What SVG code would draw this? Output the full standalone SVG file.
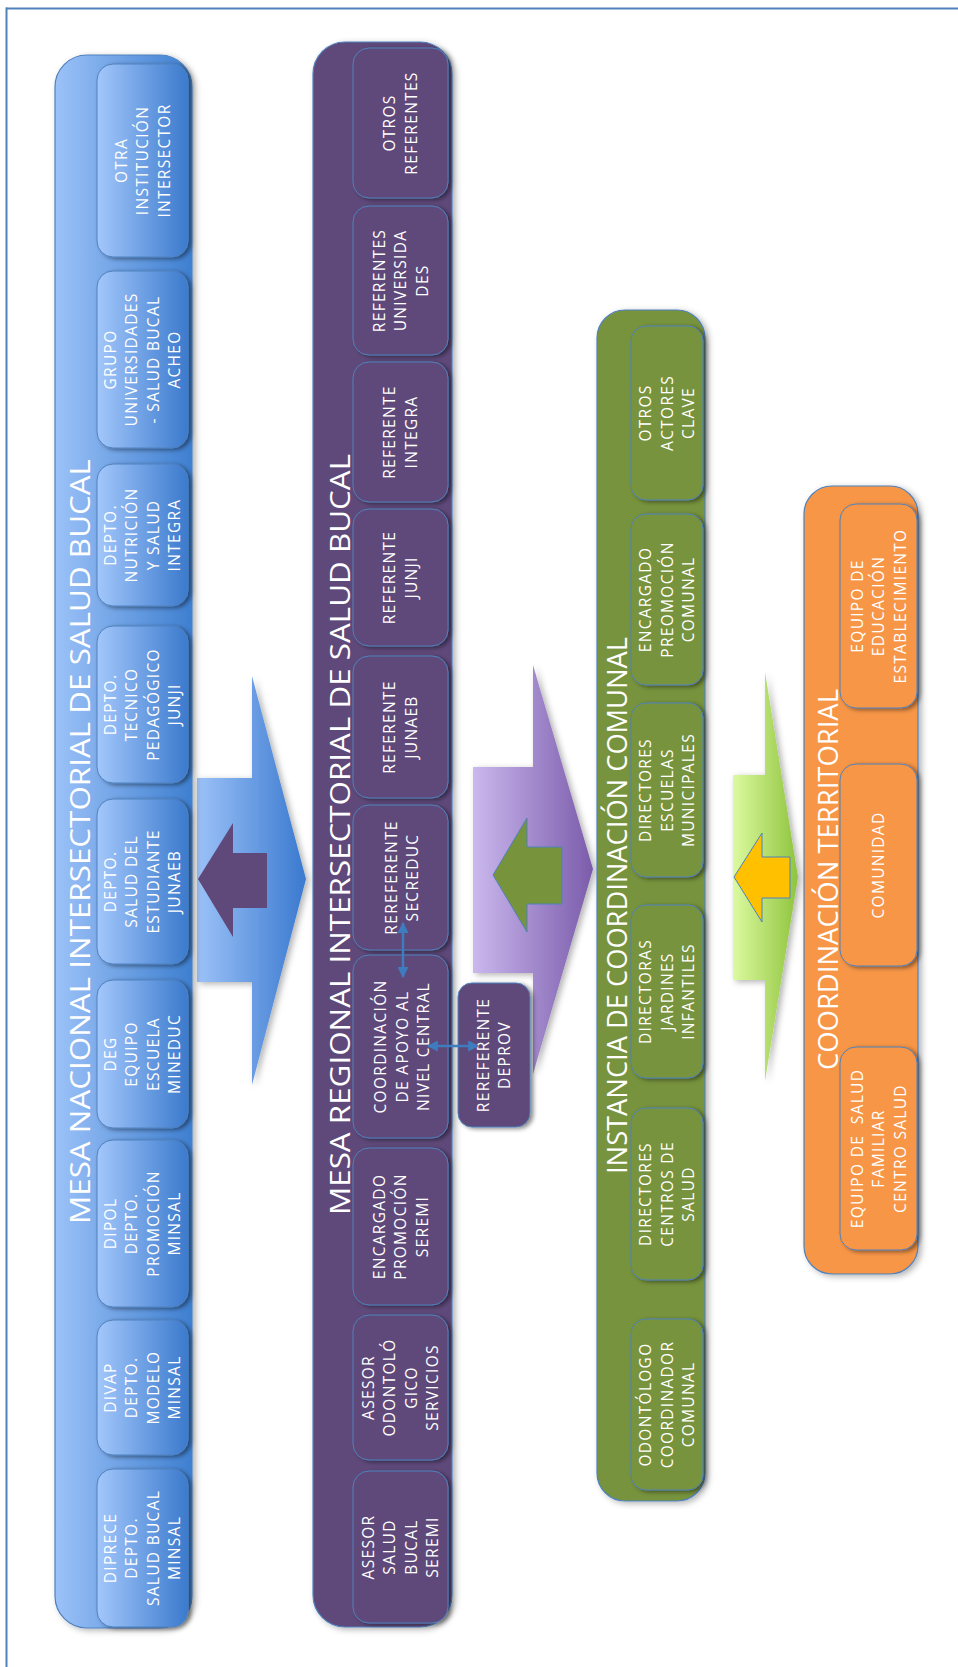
<svg xmlns="http://www.w3.org/2000/svg" width="958" height="1667" viewBox="0 0 958 1667">
<defs>
<style>
.t{font-family:"Open Sans","Liberation Sans",sans-serif;font-size:15.5px;letter-spacing:1.3px;fill:#ffffff;text-anchor:middle}
.ttl{font-family:"Open Sans","Liberation Sans",sans-serif;font-size:28px;fill:#ffffff;text-anchor:middle}
.ct{stroke:#4f81bd;stroke-width:1.2}
.bn{fill:url(#gBlueNode);stroke:#4f81bd;stroke-width:1;filter:url(#sh)}
.pn{fill:#5f497a;stroke:#4f81bd;stroke-width:1;filter:url(#sh)}
.gn{fill:#77933c;stroke:#4f81bd;stroke-width:1;filter:url(#sh)}
.on{fill:#f79646;stroke:#4f81bd;stroke-width:1;filter:url(#sh)}
.conn{stroke:#3f7cbf;stroke-width:2.5;fill:none;marker-start:url(#ah);marker-end:url(#ah)}
</style>
<linearGradient id="gBlueBox" x1="0" y1="0" x2="1" y2="0">
<stop offset="0" stop-color="#9cc2f8"/><stop offset="1" stop-color="#3e7fd0"/>
</linearGradient>
<linearGradient id="gBlueNode" x1="0" y1="0" x2="1" y2="0">
<stop offset="0" stop-color="#a3c7fb"/><stop offset="1" stop-color="#3b7acd"/>
</linearGradient>
<linearGradient id="gBlueArrow" x1="0" y1="0" x2="1" y2="0">
<stop offset="0" stop-color="#9cc2f8"/><stop offset="1" stop-color="#3a79cf"/>
</linearGradient>
<linearGradient id="gPurpleArrow" x1="0" y1="0" x2="1" y2="0">
<stop offset="0" stop-color="#cbb8ee"/><stop offset="1" stop-color="#7b5cab"/>
</linearGradient>
<linearGradient id="gGreenArrow" x1="0" y1="0" x2="1" y2="0">
<stop offset="0" stop-color="#dcfa9f"/><stop offset="1" stop-color="#8fc43e"/>
</linearGradient>
<filter id="sh" x="-20%" y="-20%" width="150%" height="140%">
<feDropShadow dx="3" dy="1.5" stdDeviation="2" flood-color="#000" flood-opacity="0.45"/>
</filter>
<filter id="sh2" x="-20%" y="-20%" width="150%" height="140%">
<feDropShadow dx="3" dy="2" stdDeviation="3" flood-color="#000" flood-opacity="0.3"/>
</filter>
<marker id="ah" viewBox="0 0 10 10" refX="9" refY="5" markerWidth="11" markerHeight="11" markerUnits="userSpaceOnUse" orient="auto-start-reverse">
<path d="M0,0 L10,5 L0,10 Z" fill="#3f7cbf"/>
</marker>
</defs>

<rect x="0" y="0" width="958" height="1667" fill="#ffffff"/>
<g id="frame" stroke="#4f81bd" stroke-width="2" fill="none">
<line x1="6" y1="8.5" x2="958" y2="8.5"/>
<line x1="6.5" y1="7.5" x2="6.5" y2="1667"/>
</g>

<!-- Flow arrows -->
<g id="flow-arrows">
<polygon points="197,778 252,778 252,676 306,879 252,1085 252,982 197,982" fill="url(#gBlueArrow)" filter="url(#sh2)"/>
<polygon points="198,879 233,823 233,853 267,853 267,908 233,908 233,937" fill="#5f497a"/>
<polygon points="473,767 533,767 533,665 593,869 533,1074 533,973 473,973" fill="url(#gPurpleArrow)" filter="url(#sh2)"/>
<polygon points="493,875 527,818 527,847 562,847 562,904 527,904 527,932" fill="#77933c" stroke="#4f81bd" stroke-width="1"/>
<polygon points="733,775 765,775 765,672 798,877 765,1081 765,980 733,980" fill="url(#gGreenArrow)" filter="url(#sh2)"/>
<polygon points="734,877 762,833 762,857 790,857 790,898 762,898 762,922" fill="#ffc000" stroke="#4f81bd" stroke-width="1"/>
</g>

<!-- MESA NACIONAL -->
<g id="mesa-nacional">
<rect class="ct" x="55" y="55" width="137" height="1573" rx="32" fill="url(#gBlueBox)" filter="url(#sh2)"/>
<text class="ttl" fill="#e6efff" transform="translate(90,841.5) rotate(-90)" textLength="765" lengthAdjust="spacingAndGlyphs">MESA NACIONAL INTERSECTORIAL DE SALUD BUCAL</text>
</g>
<g id="n-otra-institucion"><rect class="bn" x="97" y="64" width="91" height="193" rx="16"/>
<text class="t" transform="translate(142.5,160.5) rotate(-90)"><tspan x="0" y="-16">OTRA</tspan><tspan x="0" y="5.5">INSTITUCIÓN</tspan><tspan x="0" y="27">INTERSECTOR</tspan></text></g>
<g id="n-grupo-universidades"><rect class="bn" x="97" y="271" width="91" height="177" rx="16"/>
<text class="t" transform="translate(142.5,359.5) rotate(-90)"><tspan x="0" y="-26.75">GRUPO</tspan><tspan x="0" y="-5.25">UNIVERSIDADES</tspan><tspan x="0" y="16.25">- SALUD BUCAL</tspan><tspan x="0" y="37.75">ACHEO</tspan></text></g>
<g id="n-depto-nutricion"><rect class="bn" x="97" y="464" width="91" height="142" rx="16"/>
<text class="t" transform="translate(142.5,535) rotate(-90)"><tspan x="0" y="-26.75">DEPTO.</tspan><tspan x="0" y="-5.25">NUTRICIÓN</tspan><tspan x="0" y="16.25">Y SALUD</tspan><tspan x="0" y="37.75">INTEGRA</tspan></text></g>
<g id="n-depto-tecnico"><rect class="bn" x="97" y="626" width="91" height="157" rx="16"/>
<text class="t" transform="translate(142.5,704.5) rotate(-90)"><tspan x="0" y="-26.75">DEPTO.</tspan><tspan x="0" y="-5.25">TECNICO</tspan><tspan x="0" y="16.25">PEDAGÓGICO</tspan><tspan x="0" y="37.75">JUNJI</tspan></text></g>
<g id="n-depto-salud-estudiante"><rect class="bn" x="97" y="799" width="91" height="165" rx="16"/>
<text class="t" transform="translate(142.5,881.5) rotate(-90)"><tspan x="0" y="-26.75">DEPTO.</tspan><tspan x="0" y="-5.25">SALUD DEL</tspan><tspan x="0" y="16.25">ESTUDIANTE</tspan><tspan x="0" y="37.75">JUNAEB</tspan></text></g>
<g id="n-deg"><rect class="bn" x="97" y="980" width="91" height="148" rx="16"/>
<text class="t" transform="translate(142.5,1054) rotate(-90)"><tspan x="0" y="-26.75">DEG</tspan><tspan x="0" y="-5.25">EQUIPO</tspan><tspan x="0" y="16.25">ESCUELA</tspan><tspan x="0" y="37.75">MINEDUC</tspan></text></g>
<g id="n-dipol"><rect class="bn" x="97" y="1140" width="91" height="167" rx="16"/>
<text class="t" transform="translate(142.5,1223.5) rotate(-90)"><tspan x="0" y="-26.75">DIPOL</tspan><tspan x="0" y="-5.25">DEPTO.</tspan><tspan x="0" y="16.25">PROMOCIÓN</tspan><tspan x="0" y="37.75">MINSAL</tspan></text></g>
<g id="n-divap"><rect class="bn" x="97" y="1320" width="91" height="135" rx="16"/>
<text class="t" transform="translate(142.5,1387.5) rotate(-90)"><tspan x="0" y="-26.75">DIVAP</tspan><tspan x="0" y="-5.25">DEPTO.</tspan><tspan x="0" y="16.25">MODELO</tspan><tspan x="0" y="37.75">MINSAL</tspan></text></g>
<g id="n-diprece"><rect class="bn" x="97" y="1469" width="91" height="158" rx="16"/>
<text class="t" transform="translate(142.5,1548) rotate(-90)"><tspan x="0" y="-26.75">DIPRECE</tspan><tspan x="0" y="-5.25">DEPTO.</tspan><tspan x="0" y="16.25">SALUD BUCAL</tspan><tspan x="0" y="37.75">MINSAL</tspan></text></g>

<!-- MESA REGIONAL -->
<g id="mesa-regional">
<rect class="ct" x="313" y="42" width="139" height="1585" rx="32" fill="#5f497a" filter="url(#sh2)"/>
<text class="ttl" transform="translate(350,834.5) rotate(-90)" textLength="761" lengthAdjust="spacingAndGlyphs">MESA REGIONAL INTERSECTORIAL DE SALUD BUCAL</text>
</g>
<g id="n-otros-referentes"><rect class="pn" x="353" y="48" width="95" height="150" rx="16"/>
<text class="t" transform="translate(400.5,123) rotate(-90)"><tspan x="0" y="-5.25">OTROS</tspan><tspan x="0" y="16.25">REFERENTES</tspan></text></g>
<g id="n-referentes-universidades"><rect class="pn" x="353" y="206" width="95" height="149" rx="16"/>
<text class="t" transform="translate(400.5,280.5) rotate(-90)"><tspan x="0" y="-16">REFERENTES</tspan><tspan x="0" y="5.5">UNIVERSIDA</tspan><tspan x="0" y="27">DES</tspan></text></g>
<g id="n-referente-integra"><rect class="pn" x="353" y="362" width="95" height="140" rx="16"/>
<text class="t" transform="translate(400.5,432) rotate(-90)"><tspan x="0" y="-5.25">REFERENTE</tspan><tspan x="0" y="16.25">INTEGRA</tspan></text></g>
<g id="n-referente-junji"><rect class="pn" x="353" y="509" width="95" height="137" rx="16"/>
<text class="t" transform="translate(400.5,577.5) rotate(-90)"><tspan x="0" y="-5.25">REFERENTE</tspan><tspan x="0" y="16.25">JUNJI</tspan></text></g>
<g id="n-referente-junaeb"><rect class="pn" x="353" y="656" width="95" height="142" rx="16"/>
<text class="t" transform="translate(400.5,727) rotate(-90)"><tspan x="0" y="-5.25">REFERENTE</tspan><tspan x="0" y="16.25">JUNAEB</tspan></text></g>
<g id="n-secreduc"><rect class="pn" x="353" y="805" width="95" height="145" rx="16"/>
<text class="t" transform="translate(402,877.5) rotate(-90)"><tspan x="0" y="-5.25">REREFERENTE</tspan><tspan x="0" y="16.25">SECREDUC</tspan></text></g>
<g id="n-coordinacion-apoyo"><rect class="pn" x="353" y="955" width="95" height="183" rx="16"/>
<text class="t" transform="translate(402,1046.5) rotate(-90)"><tspan x="0" y="-16">COORDINACIÓN</tspan><tspan x="0" y="5.5">DE APOYO AL</tspan><tspan x="0" y="27">NIVEL CENTRAL</tspan></text></g>
<g id="n-encargado-promocion-seremi"><rect class="pn" x="353" y="1148" width="95" height="157" rx="16"/>
<text class="t" transform="translate(400.5,1226.5) rotate(-90)"><tspan x="0" y="-16">ENCARGADO</tspan><tspan x="0" y="5.5">PROMOCIÓN</tspan><tspan x="0" y="27">SEREMI</tspan></text></g>
<g id="n-asesor-odontologico"><rect class="pn" x="353" y="1315" width="95" height="145" rx="16"/>
<text class="t" transform="translate(400.5,1387.5) rotate(-90)"><tspan x="0" y="-26.75">ASESOR</tspan><tspan x="0" y="-5.25">ODONTOLÓ</tspan><tspan x="0" y="16.25">GICO</tspan><tspan x="0" y="37.75">SERVICIOS</tspan></text></g>
<g id="n-asesor-salud-bucal"><rect class="pn" x="353" y="1471" width="95" height="152" rx="16"/>
<text class="t" transform="translate(400.5,1547) rotate(-90)"><tspan x="0" y="-26.75">ASESOR</tspan><tspan x="0" y="-5.25">SALUD</tspan><tspan x="0" y="16.25">BUCAL</tspan><tspan x="0" y="37.75">SEREMI</tspan></text></g>
<g id="n-deprov"><rect class="pn" x="458" y="983" width="72" height="144" rx="14"/>
<text class="t" transform="translate(494,1055) rotate(-90)"><tspan x="0" y="-5.25">REREFERENTE</tspan><tspan x="0" y="16.25">DEPROV</tspan></text></g>

<!-- INSTANCIA COMUNAL -->
<g id="instancia-comunal">
<rect class="ct" x="597" y="310" width="108" height="1191" rx="28" fill="#77933c" filter="url(#sh2)"/>
<text class="ttl" style="font-size:27px" transform="translate(627,905.5) rotate(-90)" textLength="537" lengthAdjust="spacingAndGlyphs">INSTANCIA DE COORDINACIÓN COMUNAL</text>
</g>
<g id="n-otros-actores"><rect class="gn" x="631" y="326" width="72" height="174" rx="15"/>
<text class="t" transform="translate(667,413) rotate(-90)"><tspan x="0" y="-16">OTROS</tspan><tspan x="0" y="5.5">ACTORES</tspan><tspan x="0" y="27">CLAVE</tspan></text></g>
<g id="n-encargado-comunal"><rect class="gn" x="631" y="514" width="72" height="171" rx="15"/>
<text class="t" transform="translate(667,599.5) rotate(-90)"><tspan x="0" y="-16">ENCARGADO</tspan><tspan x="0" y="5.5">PREOMOCIÓN</tspan><tspan x="0" y="27">COMUNAL</tspan></text></g>
<g id="n-directores-escuelas"><rect class="gn" x="631" y="703" width="72" height="174" rx="15"/>
<text class="t" transform="translate(667,790) rotate(-90)"><tspan x="0" y="-16">DIRECTORES</tspan><tspan x="0" y="5.5">ESCUELAS</tspan><tspan x="0" y="27">MUNICIPALES</tspan></text></g>
<g id="n-directoras-jardines"><rect class="gn" x="631" y="905" width="72" height="173" rx="15"/>
<text class="t" transform="translate(667,991.5) rotate(-90)"><tspan x="0" y="-16">DIRECTORAS</tspan><tspan x="0" y="5.5">JARDINES</tspan><tspan x="0" y="27">INFANTILES</tspan></text></g>
<g id="n-directores-centros"><rect class="gn" x="631" y="1108" width="72" height="172" rx="15"/>
<text class="t" transform="translate(667,1194) rotate(-90)"><tspan x="0" y="-16">DIRECTORES</tspan><tspan x="0" y="5.5">CENTROS DE</tspan><tspan x="0" y="27">SALUD</tspan></text></g>
<g id="n-odontologo"><rect class="gn" x="631" y="1319" width="72" height="171" rx="15"/>
<text class="t" transform="translate(667,1404.5) rotate(-90)"><tspan x="0" y="-16">ODONTÓLOGO</tspan><tspan x="0" y="5.5">COORDINADOR</tspan><tspan x="0" y="27">COMUNAL</tspan></text></g>

<!-- COORDINACION TERRITORIAL -->
<g id="coordinacion-territorial">
<rect class="ct" x="804" y="486" width="114" height="788" rx="28" fill="#f79646" filter="url(#sh2)"/>
<text class="ttl" style="font-size:27px" transform="translate(838,879.5) rotate(-90)" textLength="381" lengthAdjust="spacingAndGlyphs">COORDINACIÓN TERRITORIAL</text>
</g>
<g id="n-equipo-educacion"><rect class="on" x="840" y="504" width="77" height="204" rx="16"/>
<text class="t" transform="translate(878.5,606) rotate(-90)"><tspan x="0" y="-16">EQUIPO DE</tspan><tspan x="0" y="5.5">EDUCACIÓN</tspan><tspan x="0" y="27">ESTABLECIMIENTO</tspan></text></g>
<g id="n-comunidad"><rect class="on" x="840" y="764" width="77" height="202" rx="16"/>
<text class="t" transform="translate(878.5,865) rotate(-90)"><tspan x="0" y="5.5">COMUNIDAD</tspan></text></g>
<g id="n-equipo-salud-familiar"><rect class="on" x="840" y="1047" width="77" height="203" rx="16"/>
<text class="t" transform="translate(878.5,1148.5) rotate(-90)"><tspan x="0" y="-16" xml:space="preserve">EQUIPO DE  SALUD</tspan><tspan x="0" y="5.5">FAMILIAR</tspan><tspan x="0" y="27">CENTRO SALUD</tspan></text></g>

<!-- Connectors -->
<g id="connectors">
<line class="conn" x1="403" y1="923" x2="403" y2="977"/>
<line class="conn" x1="428" y1="1046" x2="478" y2="1046"/>
</g>
</svg>
